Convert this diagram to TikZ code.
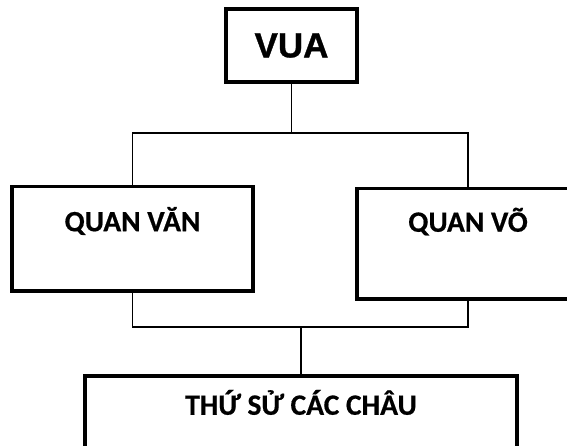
\documentclass[tikz,border=0pt]{standalone}
\usepackage{fontspec}
\setmainfont{Carlito}[BoldFeatures={FakeBold=0.5}]
\newfontfamily\arialfont{Liberation Sans}[BoldFont={Liberation Sans Bold},BoldFeatures={FakeBold=1}]
\begin{document}
\begin{tikzpicture}[x=1pt,y=-1pt,
  box/.style={draw=black,line width=3.5pt,rectangle,inner sep=0pt,fill=white,
    font=\fontsize{29.5}{33}\selectfont\bfseries},
  conn/.style={draw=black,line width=1.5pt}]
\useasboundingbox (0,0) rectangle (567,446);
% nodes
\node[box,minimum width=131pt,minimum height=73pt,font=\arialfont\bfseries\fontsize{35}{40}\selectfont] (vua) at (291.5,45.5) {VUA};
\node[box,minimum width=241pt,text height=44.5pt,text depth=59.5pt,anchor=north] (van) at (132.5,185) {QUAN VĂN};
\node[box,minimum width=222pt,text height=43pt,text depth=67pt,anchor=north] (vo) at (468,187) {QUAN VÕ};
\node[box,minimum width=432pt,text height=39pt,text depth=61pt,anchor=north] (chau) at (301,374) {THỨ SỬ CÁC CHÂU};
% junctions
\coordinate (top) at (293,133);
\coordinate (bot) at (301,327);
% connectors
\draw[conn] (vua.south) -- (vua.south |- top);
\draw[conn] (van.north) -- (van.north |- top) -- (vo.north |- top) -- (vo.north);
\draw[conn] (van.south) -- (van.south |- bot) -- (vo.south |- bot) -- (vo.south);
\draw[conn] (bot) -- (chau.north);
\end{tikzpicture}
\end{document}
